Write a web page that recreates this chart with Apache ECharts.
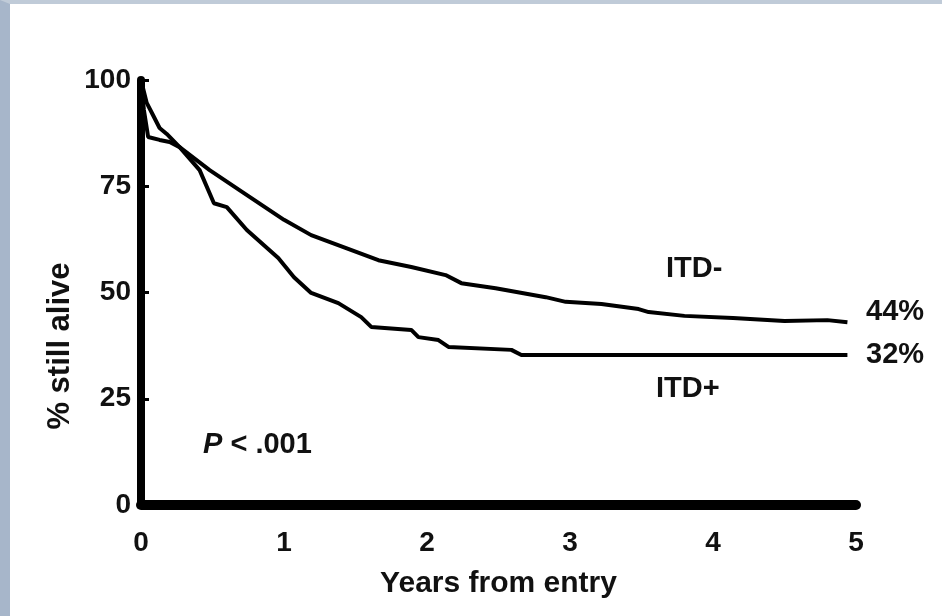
<!DOCTYPE html>
<html>
<head>
<meta charset="utf-8">
<script src="https://cdn.jsdelivr.net/npm/echarts@6/dist/echarts.min.js"></script>
<style>
  html, body { margin: 0; padding: 0; background: #fff; }
  /* 外框：左侧和顶部的灰蓝色边 */
  #wrap {
    width: 942px; height: 616px; box-sizing: border-box;
    border-left: 10px solid #a7b6ca; border-top: 4px solid #c0cbd8;
    background: #fff;
  }
  #chart { width: 932px; height: 612px; }
</style>
</head>
<body>
<div id="wrap"><div id="chart"></div></div>
<script>
// 坐标轴刻度
const xTicks = [0, 1, 2, 3, 4, 5];
const yTicks = [0, 25, 50, 75, 100];

// ITD- 生存曲线（年，% 存活）
const itdNegYears = [0, 0.02, 0.05, 0.13, 0.2, 0.27, 0.48, 0.72, 1.0, 1.19, 1.43, 1.66, 1.89, 2.13, 2.24, 2.48, 2.83, 2.97, 3.22, 3.48, 3.55, 3.8, 4.14, 4.5, 4.8, 4.94];
const itdNegSurv  = [100, 93, 86.6, 85.9, 85.4, 84.2, 78.8, 73.4, 67.1, 63.5, 60.5, 57.6, 56, 54.1, 52.2, 51, 48.9, 47.8, 47.3, 46.1, 45.4, 44.5, 44, 43.3, 43.5, 43];

// ITD+ 生存曲线
const itdPosYears = [0, 0.04, 0.08, 0.13, 0.18, 0.27, 0.41, 0.51, 0.6, 0.74, 0.96, 1.07, 1.19, 1.38, 1.54, 1.61, 1.89, 1.94, 2.08, 2.15, 2.59, 2.66, 4.94];
const itdPosSurv  = [100, 94.6, 92, 88.7, 87.3, 84.2, 78.8, 71, 70.1, 64.7, 58.1, 53.6, 49.9, 47.5, 44.2, 41.9, 41.2, 39.5, 38.8, 37.2, 36.5, 35.3, 35.3];

const font = "'Liberation Sans', Arial, sans-serif";
const chart = echarts.init(document.getElementById('chart'));

const option = {
  animation: false,
  backgroundColor: '#fff',
  grid: { left: 131, right: 86, top: 76, bottom: 111 },
  xAxis: {
    type: 'value',
    min: xTicks[0], max: xTicks[xTicks.length - 1], interval: 1,
    name: 'Years from entry',
    nameLocation: 'middle', nameGap: 64,
    nameTextStyle: { color: '#111', fontSize: 30, fontWeight: 'bold', fontFamily: font },
    axisLine: { lineStyle: { color: '#000', width: 10, cap: 'round' } },
    axisTick: { show: true, length: 4, lineStyle: { color: '#000', width: 4 } },
    axisLabel: { color: '#111', fontSize: 28, fontWeight: 'bold', fontFamily: font, margin: 24 },
    splitLine: { show: false }
  },
  yAxis: {
    type: 'value',
    min: yTicks[0], max: yTicks[yTicks.length - 1], interval: 25,
    axisLine: { lineStyle: { color: '#000', width: 8 } },
    axisTick: { show: true, inside: true, length: 8, lineStyle: { color: '#000', width: 3 } },
    axisLabel: { color: '#111', fontSize: 28, fontWeight: 'bold', fontFamily: font, margin: 10 },
    splitLine: { show: false }
  },
  series: [
    {
      name: 'ITD-', type: 'line', showSymbol: false,
      data: itdNegYears.map((t, i) => [t, itdNegSurv[i]]),
      lineStyle: { color: '#000', width: 4 }
    },
    {
      name: 'ITD+', type: 'line', showSymbol: false,
      data: itdPosYears.map((t, i) => [t, itdPosSurv[i]]),
      lineStyle: { color: '#000', width: 4 }
    }
  ],
  // 图中的文字注释（纵轴标题偏下，单独放置）
  graphic: [
    { type: 'text', x: 50, y: 342, rotation: Math.PI / 2,
      style: { text: '% still alive', font: 'bold 31px ' + font, fill: '#111', align: 'center', verticalAlign: 'middle' } },
    { type: 'text', left: 656, top: 250, style: { text: 'ITD-', font: 'bold 29px ' + font, fill: '#111' } },
    { type: 'text', left: 646, top: 370, style: { text: 'ITD+', font: 'bold 29px ' + font, fill: '#111' } },
    { type: 'text', left: 856, top: 293, style: { text: '44%', font: 'bold 29px ' + font, fill: '#111' } },
    { type: 'text', left: 856, top: 336, style: { text: '32%', font: 'bold 29px ' + font, fill: '#111' } },
    { type: 'text', left: 193, top: 426, style: { rich: {
        p: { font: 'italic bold 29px ' + font, fill: '#111' },
        n: { font: 'bold 29px ' + font, fill: '#111' }
      }, text: '{p|P}{n| < .001}' } }
  ]
};

chart.setOption(option);
</script>
</body>
</html>
